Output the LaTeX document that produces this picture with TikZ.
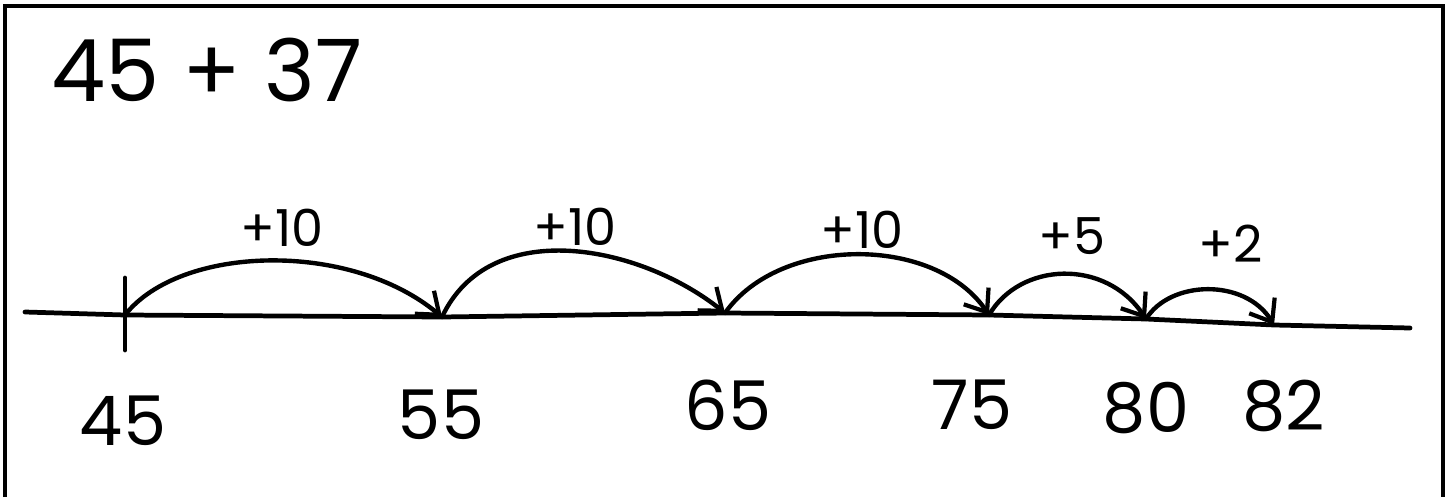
\documentclass[tikz,border=0pt]{standalone}
\usepackage{fontspec}
\setmainfont{Poppins}
\usetikzlibrary{arrows.meta,calc}

\tikzset{
  numline/.style={line width=2.7pt,line cap=round,line join=round},
  jump/.style={line width=2.5pt,line cap=round,
               -{Straight Barb[angle=75:14pt,line width=2.4pt]}},
  numlabel/.style={inner sep=0pt,font=\fontsize{39}{42}\selectfont},
  jumplabel/.style={inner sep=0pt,font=\fontsize{29}{31}\selectfont},
  sumlabel/.style={inner sep=0pt,font=\fontsize{49}{52}\selectfont}
}

\begin{document}
\begin{tikzpicture}[x=0.02cm,y=-0.02cm]
 \useasboundingbox (0,0) rectangle (1453,497);
 \draw[line width=2pt] (5,497) -- (5,6) -- (1443,6) -- (1443,497);
 \node[sumlabel] (sum) at (207,70) {45 + 37};
 % points on the line
 \coordinate (p0) at (25,312);
 \coordinate (p45) at (125,315);
 \coordinate (p55) at (442,317);
 \coordinate (p65) at (725,313);
 \coordinate (p75) at (989,315);
 \coordinate (p80) at (1146,319);
 \coordinate (p82) at (1274,325);
 \coordinate (p1) at (1410,328);
 \coordinate (t1) at (125,278); \coordinate (t2) at (125,350);
 \draw[numline] (p0) -- (p45) -- (p55) -- (p65) -- (p75) -- (p80) -- (p82) -- (p1);
 \draw[numline] (t1) -- (t2);
 % jumps
 \draw[jump] (p45) .. controls +(55,-70) and +(-92,-77) .. (p55);
 \draw[jump] (p55) .. controls +(48,-102) and +(-85,-68) .. (p65);
 \draw[jump] (p65) .. controls +(55,-78) and +(-54,-80) .. (p75);
 \draw[jump] (p75) .. controls +(31,-53) and +(-41,-61) .. (p80);
 \draw[jump] (p80) .. controls +(24,-39) and +(-29,-47) .. (p82);
 \node[jumplabel] (j1) at (282,228) {+10};
 \node[jumplabel] (j2) at (575,227) {+10};
 \node[jumplabel] (j3) at (862,230) {+10};
 \node[jumplabel] (j4) at (1072,236) {+5};
 \node[jumplabel] (j5) at (1231,244) {+2};
 % numbers
 \node[numlabel] (l45) at (123,421) {45};
 \node[numlabel] (l55) at (441,415) {55};
 \node[numlabel] (l65) at (728,405) {65};
 \node[numlabel] (l75) at (972,405) {75};
 \node[numlabel] (l80) at (1146,408) {80};
 \node[numlabel] (l82) at (1284,406) {82};
\end{tikzpicture}
\end{document}
